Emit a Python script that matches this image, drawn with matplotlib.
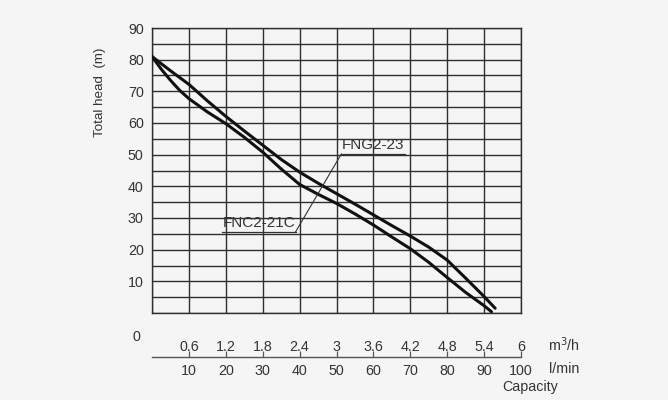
import matplotlib
matplotlib.use("Agg")
import matplotlib.pyplot as plt
from matplotlib.transforms import blended_transform_factory

plt.rcParams['font.family'] = ['Liberation Sans', 'DejaVu Sans']

# Data
flow_up = [0, 5, 10, 15, 20, 25, 30, 35, 40, 45, 50, 55, 60, 65, 70, 75, 80, 85, 90, 93]
head_up = [81, 76.5, 72.2, 67, 62.1, 57.5, 53, 48.5, 44.5, 41, 37.7, 34.4, 31, 27.6, 24.3, 20.8, 16.7, 11, 5.2, 1.5]
flow_lo = [0, 2.5, 5, 7.5, 10, 15, 20, 25, 30, 35, 40, 45, 50, 55, 60, 65, 70, 75, 80, 85, 90, 92]
head_lo = [81, 77, 73.5, 70.3, 67.7, 63.5, 59.8, 55.5, 50.8, 45.5, 40.6, 37.5, 34.6, 31.3, 27.8, 24, 20.3, 16, 11.2, 6.5, 2.3, 0.4]

head_ticks = [10, 20, 30, 40, 50, 60, 70, 80, 90]
lpm_ticks = [10, 20, 30, 40, 50, 60, 70, 80, 90, 100]
m3h_labels = ['0.6', '1.2', '1.8', '2.4', '3', '3.6', '4.2', '4.8', '5.4', '6']

label_up = 'FNG2-23'
label_lo = 'FNC2-21C'

bg = '#f5f5f5'
gc = '#2e2e2e'
tc = '#333333'
fs = 10.3
fa = 11

fig = plt.figure(figsize=(6.68, 4.0), dpi=100, facecolor=bg)
L, R, T, B = 152, 521, 28, 313
ax = fig.add_axes([L/668, 1 - B/400, (R - L)/668, (B - T)/400])
ax.set_facecolor(bg)
ax.set_xlim(0, 100)
ax.set_ylim(0, 90)
ax.set_xticks(range(0, 101, 10))
ax.set_yticks(range(0, 91, 5))
ax.grid(True, color=gc, lw=1.0)
for s in ax.spines.values():
    s.set_color(gc)
    s.set_linewidth(1.0)
ax.tick_params(length=0, labelbottom=False)
ax.set_yticklabels([str(v) if (v in head_ticks) else '' for v in range(0, 91, 5)],
                   fontsize=fs, color=tc)
ax.tick_params(axis='y', pad=6)

ax.plot(flow_up, head_up, color='#111111', lw=2.2, solid_capstyle='round', zorder=5)
ax.plot(flow_lo, head_lo, color='#111111', lw=2.2, solid_capstyle='round', zorder=5)

# annotations
ax.text(51.5, 50.7, label_up, fontsize=fa, color=tc, ha='left', va='bottom', zorder=6)
ax.plot([51.3, 68.5], [50.2, 50.2], color=tc, lw=0.9, zorder=6)
ax.text(19.2, 26.1, label_lo, fontsize=fa, color=tc, ha='left', va='bottom', zorder=6)
ax.plot([19.0, 38.9], [25.6, 25.6], color=tc, lw=0.9, zorder=6)
ax.plot([51.3, 38.9], [50.2, 25.6], color=tc, lw=0.8, zorder=6)

# zero label
fig.text(136/668, 1 - 337/400, '0', fontsize=fs, color=tc, ha='center', va='center')

# y label
fig.text(100/668, 1 - 92/400, 'Total head  (m)', fontsize=9.6, color=tc,
         rotation=90, ha='center', va='center')

# lower capacity axis
ax2 = fig.add_axes([L/668, 1 - 357/400, (R - L)/668, 0.0001])
ax2.set_xlim(0, 100)
ax2.set_facecolor('none')
for k in ['top', 'left', 'right']:
    ax2.spines[k].set_visible(False)
ax2.spines['bottom'].set_color('#555555')
ax2.spines['bottom'].set_linewidth(1.0)
ax2.set_yticks([])
ax2.set_xticks(lpm_ticks)
ax2.set_xticklabels([str(v) for v in lpm_ticks], fontsize=fs, color=tc)
ax2.tick_params(axis='x', direction='in', length=4, width=0.9, color='#555555', pad=5)

tr = blended_transform_factory(ax2.transData, fig.transFigure)
for x, lab in zip(lpm_ticks, m3h_labels):
    ax2.text(x, 1 - 347/400, lab, transform=tr, fontsize=fs, color=tc,
             ha='center', va='center')

fig.text(548/668, 1 - 345/400, 'm$^3$/h', fontsize=fs, color=tc, ha='left', va='center')
fig.text(549/668, 1 - 369/400, 'l/min', fontsize=fs, color=tc, ha='left', va='center')
fig.text(530/668, 1 - 387/400, 'Capacity', fontsize=fs, color=tc, ha='center', va='center')

fig.savefig('out.png', dpi=100, facecolor=bg)
